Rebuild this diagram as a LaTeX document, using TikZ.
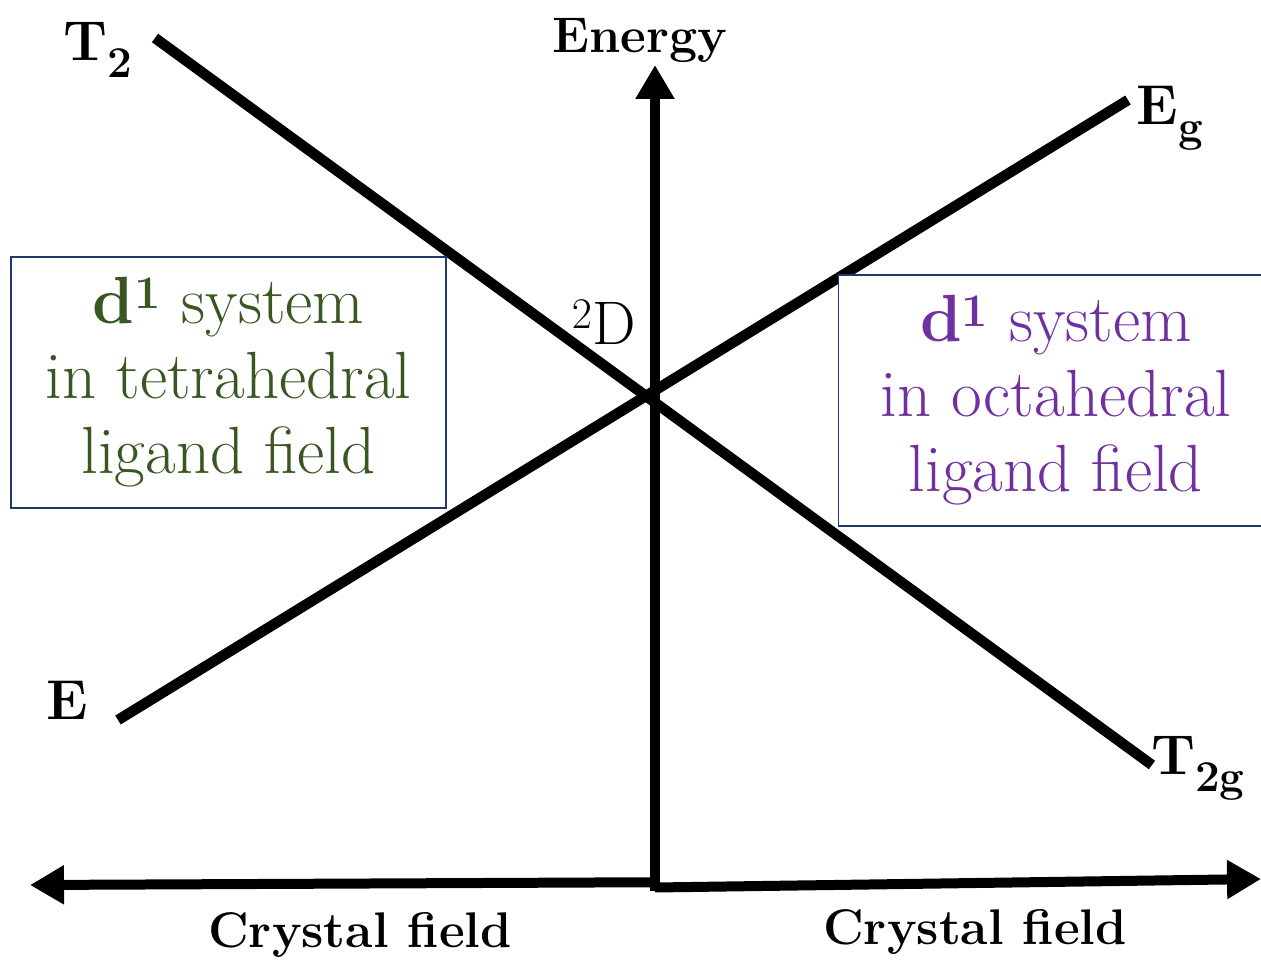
\documentclass[tikz,border=0pt]{standalone}
\usepackage{tikz}
\usetikzlibrary{positioning, arrows.meta}
\definecolor{TetraGreen}{RGB}{56,87,35}
\definecolor{OctaPurple}{RGB}{112,48,160}
\definecolor{FrameBlue}{RGB}{31,56,110}
\newcommand{\lowsub}[1]{\raisebox{-0.3em}{\fontsize{25}{27}\selectfont #1}}
\tikzset{
  levelline/.style={line width=0.21cm, black},
  axisline/.style={line width=0.2cm, black, -{Triangle[width=0.74cm, length=0.68cm]}},
  fieldbox/.style={draw=FrameBlue, line width=1pt, fill=white, align=center,
    minimum width=8.7cm, minimum height=5.02cm, inner sep=0pt,
    font=\fontsize{38}{42.7}\selectfont},
  termlabel/.style={font=\fontsize{32}{36}\selectfont\bfseries, inner sep=0pt},
  axislabel/.style={font=\fontsize{28.5}{30}\selectfont\bfseries, inner sep=0pt}
}
\begin{document}
\begin{tikzpicture}[x=0.02cm, y=-0.02cm]
  \useasboundingbox (0,0) rectangle (1261,964);
  % crossing levels
  \coordinate (tTwo) at (155,38);
  \coordinate (tTwoG) at (1152,765);
  \coordinate (eLow) at (118,720);
  \coordinate (eG) at (1128,100);
  \coordinate (center) at (652,395);
  \draw[levelline] (tTwo) -- (tTwoG);
  \draw[levelline] (eLow) -- (eG);
  % axes
  \coordinate (origin) at (655,891);
  \coordinate (topEnd) at (655,65);
  \coordinate (leftEnd) at (30,885);
  \coordinate (rightEnd) at (1261,879);
  \draw[axisline] (origin) -- (topEnd);
  \draw[axisline] ([yshift=5]origin) -- (leftEnd);
  \draw[axisline] ([yshift=2]origin) -- (rightEnd);
  % boxes
  \node[fieldbox, text=TetraGreen] (tetraBox) at (228.5,382.5)
    {\textbf{d\textsuperscript{1}} system\\in tetrahedral\\ligand field};
  \node[fieldbox, text=OctaPurple] (octaBox) at (1056,400.5)
    {\textbf{d\textsuperscript{1}} system\\in octahedral\\ligand field};
  % labels
  \node[termlabel] (tTwoLabel) at (98,50) {T\lowsub{2}};
  \node[termlabel] (eGLabel) at (1170,118) {E\lowsub{g}};
  \node[termlabel] (eLabel) at (67,700) {E};
  \node[termlabel] (tTwoGLabel) at (1198,768) {T\lowsub{2g}};
  \node[font=\fontsize{35}{38}\selectfont, inner sep=0pt] (dLabel) at (604,322) {$^2$D};
  \node[axislabel] (energyLabel) at (640,40) {Energy};
  \node[axislabel] (leftField) at (360,935) {Crystal field};
  \node[axislabel] (rightField) at (975,932) {Crystal field};
\end{tikzpicture}
\end{document}
